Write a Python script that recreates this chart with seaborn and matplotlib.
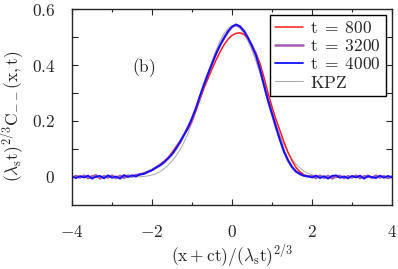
import matplotlib
matplotlib.use("Agg")
import matplotlib.pyplot as plt
import matplotlib.ticker as mticker
import numpy as np
import pandas as pd
import seaborn as sns

# x grid: -4.0 ... 4.0 in steps of 0.1
x_vals = np.round(np.arange(-40, 41) / 10.0, 1)

t800 = [
    0.001, -0.002, 0.002, 0.000, -0.002, 0.003, -0.001, 0.002, -0.002, 0.001,
    0.003, -0.001, 0.002, 0.003, 0.002,
    0.004, 0.006, 0.010, 0.014, 0.019, 0.026, 0.034, 0.045, 0.056, 0.069,
    0.088, 0.108, 0.128, 0.150, 0.172, 0.200, 0.238, 0.278, 0.318, 0.352,
    0.386, 0.418, 0.447, 0.472, 0.492,
    0.506, 0.513, 0.515, 0.509, 0.494, 0.471, 0.442, 0.405, 0.355, 0.300,
    0.250, 0.205, 0.165, 0.125, 0.088, 0.058, 0.034, 0.018, 0.008, 0.003,
    0.001, 0.002, -0.001, 0.001, -0.002, 0.002, 0.000, -0.001, 0.002, -0.002,
    0.001, 0.000, 0.002, -0.001, 0.001, -0.002, 0.002, 0.000, -0.001, 0.001,
    0.000,
]

t3200 = [
    -0.003, 0.004, -0.002, 0.005, -0.004, 0.002, 0.006, -0.005, 0.003, -0.002,
    0.005, -0.004, 0.004, -0.003, 0.005,
    0.002, 0.007, 0.008, 0.013, 0.018, 0.025, 0.033, 0.043, 0.052, 0.067,
    0.082, 0.101, 0.124, 0.151, 0.178, 0.208, 0.247, 0.288, 0.331, 0.369,
    0.404, 0.441, 0.471, 0.497, 0.519,
    0.536, 0.543, 0.537, 0.522, 0.496, 0.467, 0.433, 0.384, 0.328, 0.274,
    0.225, 0.177, 0.133, 0.091, 0.059, 0.035, 0.020, 0.010, 0.005, 0.001,
    0.003, -0.004, 0.005, -0.003, 0.004, -0.005, 0.002, 0.004, -0.004, 0.003,
    -0.002, 0.005, -0.004, 0.002, 0.004, -0.003, 0.005, -0.002, 0.003, -0.004,
    0.002,
]

t4000 = [
    0.002, -0.004, 0.003, -0.002, 0.005, -0.006, 0.001, 0.004, -0.005, 0.006,
    -0.003, 0.002, -0.006, 0.007, 0.000,
    0.006, 0.002, 0.010, 0.011, 0.019, 0.024, 0.034, 0.041, 0.053, 0.066,
    0.081, 0.102, 0.125, 0.150, 0.177, 0.210, 0.246, 0.290, 0.330, 0.368,
    0.405, 0.440, 0.470, 0.496, 0.520,
    0.537, 0.545, 0.538, 0.521, 0.497, 0.468, 0.435, 0.385, 0.327, 0.273,
    0.226, 0.178, 0.132, 0.090, 0.060, 0.036, 0.019, 0.011, 0.004, 0.003,
    -0.002, 0.005, -0.004, 0.003, -0.006, 0.004, 0.006, -0.003, 0.002, -0.005,
    0.004, -0.002, 0.005, -0.006, 0.003, 0.000, -0.004, 0.005, -0.003, 0.004,
    -0.002,
]

kpz = [
    0.000, 0.000, 0.000, 0.000, 0.000, 0.000, 0.000, 0.000, 0.000, 0.000,
    0.000, 0.000, 0.000, 0.000, 0.000, 0.000, 0.000, 0.001, 0.002, 0.004,
    0.007, 0.012, 0.019, 0.029, 0.042, 0.057, 0.075, 0.097, 0.124, 0.156,
    0.195, 0.238, 0.283, 0.328, 0.372, 0.414, 0.453, 0.486, 0.512, 0.531,
    0.540,
    0.540, 0.531, 0.512, 0.485, 0.452, 0.413, 0.370, 0.326, 0.281, 0.236,
    0.190, 0.149, 0.114, 0.086, 0.064, 0.046, 0.032, 0.021, 0.013, 0.008,
    0.005, 0.003, 0.001, 0.000, 0.000, 0.000, 0.000, 0.000, 0.000, 0.000,
    0.000, 0.000, 0.000, 0.000, 0.000, 0.000, 0.000, 0.000, 0.000, 0.000,
]

labels = ["t = 800", "t = 3200", "t = 4000", "KPZ"]
series = [t800, t3200, t4000, kpz]
colors = ["#ff1a1a", "#a35cb0", "#1010ff", "#a8a8a8"]
widths = [1.1, 1.8, 1.3, 0.7]

df = pd.concat(
    [pd.DataFrame({"x": x_vals, "y": s, "curve": lab}) for lab, s in zip(labels, series)],
    ignore_index=True,
)

sns.set_style("ticks")
plt.rcParams["mathtext.fontset"] = "cm"
plt.rcParams["font.family"] = "serif"
plt.rcParams["font.serif"] = ["cmr10", "DejaVu Serif"]
plt.rcParams["axes.formatter.use_mathtext"] = True

FS = 12.5

fig = plt.figure(figsize=(3.98, 2.69), dpi=100)
ax = fig.add_axes([0.181, 0.238, 0.804, 0.7285])

# KPZ first so the data curves lie over it
draw_order = [3, 0, 1, 2]
for i in draw_order:
    sub = df[df["curve"] == labels[i]]
    sns.lineplot(data=sub, x="x", y="y", color=colors[i], lw=widths[i],
                 ax=ax, label=labels[i], estimator=None, sort=False)

ax.set_xlim(-4, 4)
ax.set_ylim(-0.1, 0.6)
ax.xaxis.set_major_locator(mticker.MultipleLocator(2))
ax.xaxis.set_minor_locator(mticker.MultipleLocator(1))
ax.yaxis.set_major_locator(mticker.FixedLocator([0, 0.2, 0.4, 0.6]))
ax.yaxis.set_minor_locator(mticker.FixedLocator([0.1, 0.3, 0.5]))
ax.xaxis.set_major_formatter(mticker.FuncFormatter(lambda v, p: f"${v:g}$"))
ax.yaxis.set_major_formatter(mticker.FuncFormatter(lambda v, p: f"${v:g}$"))
ax.tick_params(which="both", direction="in", top=True, right=True, width=0.8)
ax.tick_params(which="major", length=4, labelsize=FS)
ax.tick_params(axis="x", which="minor", length=2.5)
ax.tick_params(axis="y", which="minor", length=4)
ax.tick_params(axis="x", pad=14)
ax.tick_params(axis="y", pad=12)
for sp in ax.spines.values():
    sp.set_linewidth(1.0)

ax.set_xlabel(r"$(\mathrm{x+ct})/(\lambda_{\mathrm{s}}\mathrm{t})^{2/3}$", fontsize=FS)
ax.xaxis.set_label_coords(0.5, -0.19)
ax.set_ylabel(r"$(\lambda_{\mathrm{s}}\mathrm{t})^{2/3}\mathrm{C}_{--}(\mathrm{x,t})$",
              fontsize=FS)
ax.yaxis.set_label_coords(-0.14, 0.454)
ax.text(-2.2, 0.39, r"$\mathrm{(b)}$", fontsize=FS, ha="center", va="center")

handles, labs = ax.get_legend_handles_labels()
order = [labs.index(l) for l in labels]
leg = ax.legend([handles[k] for k in order],
                [r"$\mathrm{t}\;=\;800$", r"$\mathrm{t}\;=\;3200$",
                 r"$\mathrm{t}\;=\;4000$", r"$\mathrm{KPZ}$"],
                loc="upper right", fontsize=FS, frameon=True, fancybox=False,
                framealpha=1, edgecolor="black", handlelength=1.6, handletextpad=0.4,
                labelspacing=0.12, borderpad=0.3, borderaxespad=0.35)
leg.get_frame().set_linewidth(1.0)

fig.savefig("out.png", dpi=100)
